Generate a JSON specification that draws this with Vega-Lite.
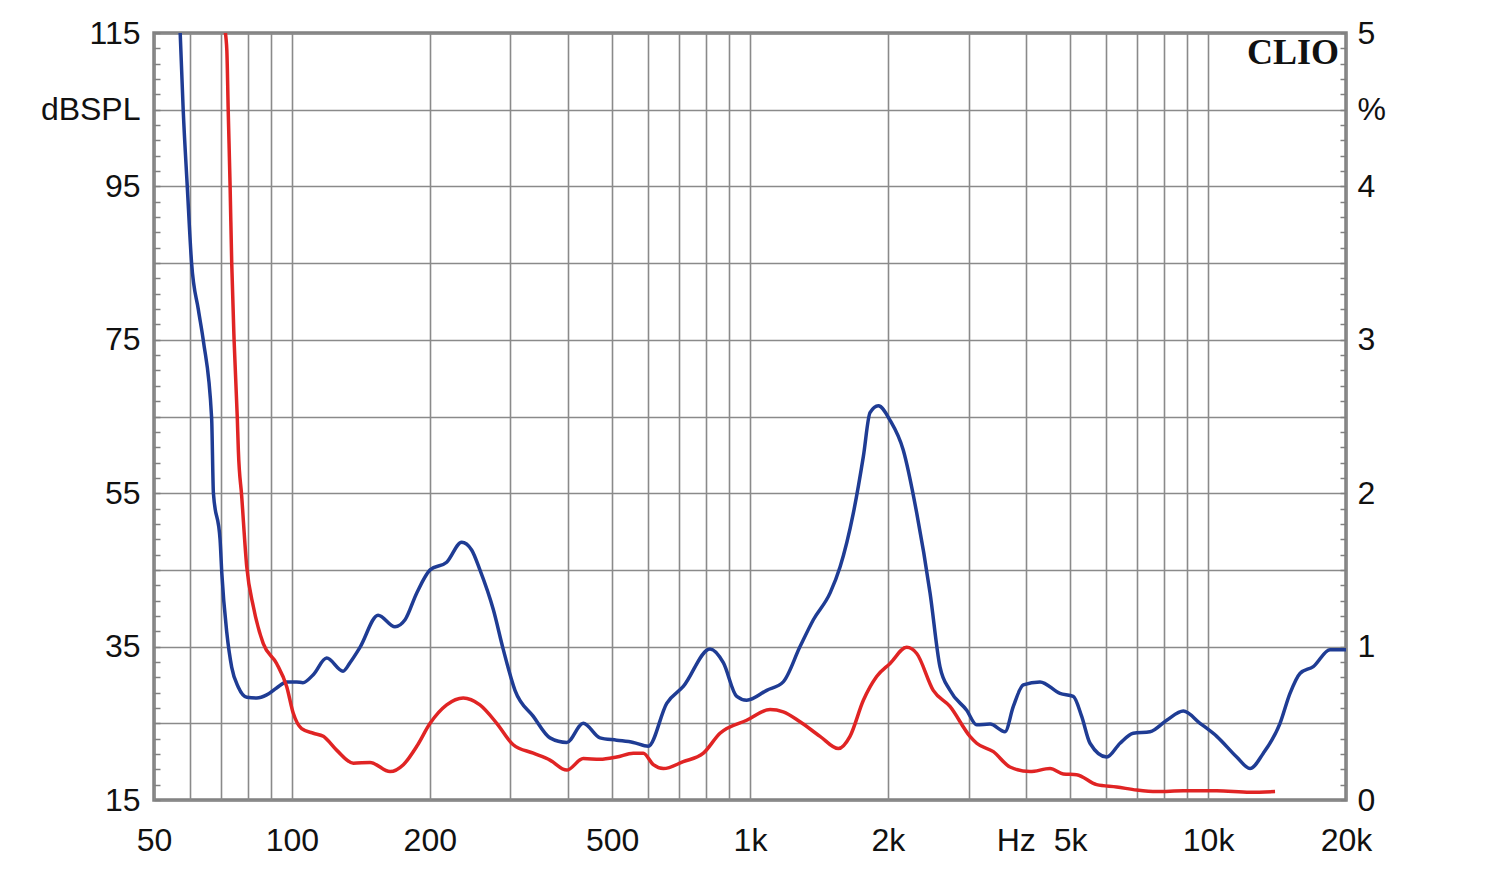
{
  "$schema": "https://vega.github.io/schema/vega-lite/v6.json",
  "width": 1192,
  "height": 767,
  "autosize": {"type": "none"},
  "padding": {"left": 154, "top": 33, "right": 154, "bottom": 77},
  "background": "white",
  "config": {
    "view": {"stroke": "#808080", "strokeWidth": 3.5},
    "axis": {"labelFont": "Liberation Sans", "labelFontSize": 32, "labelColor": "#111111", "domain": false, "title": null, "labelOverlap": false, "labelFlush": false, "tickCount": 200}
  },
  "datasets": {
    "blue": [
      {"freq": 57, "db": 115.4}, {"freq": 57.9, "db": 105}, {"freq": 59.1, "db": 95}, {"freq": 60.4, "db": 85}, {"freq": 62.5, "db": 78.9}, {"freq": 64.1, "db": 74.8}, {"freq": 66.8, "db": 64.8}, {"freq": 67.4, "db": 55}, {"freq": 69.7, "db": 48.9}, {"freq": 70.3, "db": 44.6}, {"freq": 72.1, "db": 36.8}, {"freq": 73.9, "db": 32.3}, {"freq": 76.4, "db": 29.7}, {"freq": 79.7, "db": 28.4}, {"freq": 83.8, "db": 28.3}, {"freq": 88.1, "db": 28.7}, {"freq": 92.6, "db": 29.6}, {"freq": 97.4, "db": 30.4}, {"freq": 102.4, "db": 30.4}, {"freq": 105.7, "db": 30.3}, {"freq": 111.2, "db": 31.3}, {"freq": 119.1, "db": 33.5}, {"freq": 129.3, "db": 31.8}, {"freq": 133.9, "db": 32.9}, {"freq": 140.8, "db": 34.9}, {"freq": 154.2, "db": 39.1}, {"freq": 167.9, "db": 37.6}, {"freq": 176.6, "db": 38.5}, {"freq": 187.3, "db": 42.0}, {"freq": 200.3, "db": 45.0}, {"freq": 217.7, "db": 46.0}, {"freq": 234.8, "db": 48.6}, {"freq": 246.8, "db": 47.6}, {"freq": 257.3, "db": 45.0}, {"freq": 275.3, "db": 39.8}, {"freq": 289.4, "db": 34.6}, {"freq": 306.9, "db": 29.3}, {"freq": 336.5, "db": 25.9}, {"freq": 365.9, "db": 23.1}, {"freq": 398.1, "db": 22.5}, {"freq": 432.5, "db": 25.0}, {"freq": 470.5, "db": 23.1}, {"freq": 511.7, "db": 22.8}, {"freq": 556.2, "db": 22.5}, {"freq": 599.8, "db": 22.0}, {"freq": 658, "db": 27.6}, {"freq": 715.2, "db": 29.8}, {"freq": 817.9, "db": 34.7}, {"freq": 874.5, "db": 32.9}, {"freq": 935.5, "db": 28.5}, {"freq": 983.5, "db": 28.0}, {"freq": 1088, "db": 29.3}, {"freq": 1182, "db": 30.4}, {"freq": 1286, "db": 35.0}, {"freq": 1375, "db": 38.5}, {"freq": 1496, "db": 42.0}, {"freq": 1573, "db": 45.4}, {"freq": 1681, "db": 52.4}, {"freq": 1768, "db": 59.8}, {"freq": 1828, "db": 65.5}, {"freq": 1906, "db": 66.4}, {"freq": 2022, "db": 64.5}, {"freq": 2161, "db": 60.6}, {"freq": 2312, "db": 52.4}, {"freq": 2472, "db": 42.0}, {"freq": 2598, "db": 32.4}, {"freq": 2732, "db": 29.3}, {"freq": 2972, "db": 26.7}, {"freq": 3125, "db": 24.8}, {"freq": 3342, "db": 24.9}, {"freq": 3603, "db": 23.9}, {"freq": 3757, "db": 27.2}, {"freq": 3950, "db": 30.0}, {"freq": 4296, "db": 30.4}, {"freq": 4750, "db": 28.9}, {"freq": 5078, "db": 28.5}, {"freq": 5297, "db": 25.9}, {"freq": 5523, "db": 22.4}, {"freq": 6009, "db": 20.6}, {"freq": 6424, "db": 22.4}, {"freq": 6866, "db": 23.7}, {"freq": 7468, "db": 23.9}, {"freq": 8122, "db": 25.4}, {"freq": 8829, "db": 26.6}, {"freq": 9602, "db": 25.0}, {"freq": 10444, "db": 23.3}, {"freq": 11547, "db": 20.6}, {"freq": 12346, "db": 19.1}, {"freq": 13200, "db": 21.1}, {"freq": 14355, "db": 25.0}, {"freq": 15093, "db": 28.9}, {"freq": 15868, "db": 31.5}, {"freq": 16968, "db": 32.4}, {"freq": 18455, "db": 34.6}, {"freq": 20000, "db": 34.6}
    ],
    "red": [
      {"freq": 71.4, "pct": 5.02}, {"freq": 72.1, "pct": 4.89}, {"freq": 72.6, "pct": 4.5}, {"freq": 73.3, "pct": 4.0}, {"freq": 73.9, "pct": 3.5}, {"freq": 74.8, "pct": 2.99}, {"freq": 76.0, "pct": 2.49}, {"freq": 76.4, "pct": 2.28}, {"freq": 77.7, "pct": 1.98}, {"freq": 79.7, "pct": 1.52}, {"freq": 82.4, "pct": 1.26}, {"freq": 86.6, "pct": 1.02}, {"freq": 92.6, "pct": 0.89}, {"freq": 97.4, "pct": 0.74}, {"freq": 100.7, "pct": 0.565}, {"freq": 105.0, "pct": 0.465}, {"freq": 111.4, "pct": 0.435}, {"freq": 117.1, "pct": 0.415}, {"freq": 125.2, "pct": 0.325}, {"freq": 136.2, "pct": 0.24}, {"freq": 148.1, "pct": 0.245}, {"freq": 163.8, "pct": 0.185}, {"freq": 175.1, "pct": 0.23}, {"freq": 187.3, "pct": 0.35}, {"freq": 200.3, "pct": 0.5}, {"freq": 217.7, "pct": 0.62}, {"freq": 236.6, "pct": 0.665}, {"freq": 257.3, "pct": 0.62}, {"freq": 280, "pct": 0.5}, {"freq": 304.2, "pct": 0.36}, {"freq": 336.5, "pct": 0.305}, {"freq": 365.9, "pct": 0.26}, {"freq": 398.1, "pct": 0.195}, {"freq": 432.5, "pct": 0.27}, {"freq": 470.5, "pct": 0.265}, {"freq": 511.7, "pct": 0.28}, {"freq": 556.2, "pct": 0.305}, {"freq": 585, "pct": 0.305}, {"freq": 615, "pct": 0.23}, {"freq": 647, "pct": 0.205}, {"freq": 715, "pct": 0.25}, {"freq": 791, "pct": 0.305}, {"freq": 860, "pct": 0.435}, {"freq": 983.5, "pct": 0.52}, {"freq": 1106, "pct": 0.59}, {"freq": 1182, "pct": 0.575}, {"freq": 1286, "pct": 0.51}, {"freq": 1422, "pct": 0.415}, {"freq": 1559, "pct": 0.335}, {"freq": 1653, "pct": 0.415}, {"freq": 1768, "pct": 0.65}, {"freq": 1890, "pct": 0.805}, {"freq": 2022, "pct": 0.89}, {"freq": 2198, "pct": 0.995}, {"freq": 2312, "pct": 0.955}, {"freq": 2512, "pct": 0.715}, {"freq": 2732, "pct": 0.61}, {"freq": 3021, "pct": 0.415}, {"freq": 3125, "pct": 0.37}, {"freq": 3398, "pct": 0.315}, {"freq": 3694, "pct": 0.215}, {"freq": 4085, "pct": 0.185}, {"freq": 4518, "pct": 0.205}, {"freq": 4830, "pct": 0.17}, {"freq": 5165, "pct": 0.165}, {"freq": 5711, "pct": 0.1}, {"freq": 6316, "pct": 0.085}, {"freq": 6984, "pct": 0.065}, {"freq": 7724, "pct": 0.055}, {"freq": 8829, "pct": 0.06}, {"freq": 10444, "pct": 0.06}, {"freq": 12346, "pct": 0.05}, {"freq": 14000, "pct": 0.055}
    ],
    "brand": [{"label": "CLIO"}]
  },
  "layer": [
    {
      "layer": [
        {
          "data": {"name": "blue"},
          "mark": {"type": "line", "color": "#1f3c94", "strokeWidth": 3.5, "clip": true, "interpolate": "monotone"},
          "encoding": {
            "x": {
              "field": "freq", "type": "quantitative",
              "scale": {"type": "log", "domain": [50, 20000], "nice": false},
              "axis": {
                "orient": "bottom",
                "tickCount": 200,
                "values": [50, 60, 70, 80, 90, 100, 200, 300, 400, 500, 600, 700, 800, 900, 1000, 2000, 3000, 4000, 5000, 6000, 7000, 8000, 9000, 10000, 20000],
                "labelExpr": "datum.value == 4000 ? 'Hz' : (indexof([50, 100, 200, 500], datum.value) >= 0 ? datum.value + '' : (indexof([1000, 2000, 5000, 10000, 20000], datum.value) >= 0 ? (datum.value / 1000) + 'k' : ''))",
                "labelOffset": {"condition": {"test": "datum.value == 4000", "value": -10}, "value": 0},
                "grid": true, "gridColor": "#8a8a8a", "gridWidth": 1.6,
                "ticks": false, "labelPadding": 25
              }
            },
            "y": {
              "field": "db", "type": "quantitative",
              "scale": {"domain": [15, 115], "nice": false, "zero": false},
              "axis": {
                "orient": "left",
                "tickCount": 200,
                "values": [15, 17, 19, 21, 23, 25, 27, 29, 31, 33, 35, 37, 39, 41, 43, 45, 47, 49, 51, 53, 55, 57, 59, 61, 63, 65, 67, 69, 71, 73, 75, 77, 79, 81, 83, 85, 87, 89, 91, 93, 95, 97, 99, 101, 103, 105, 107, 109, 111, 113, 115],
                "labelExpr": "datum.value == 105 ? 'dBSPL' : ((datum.value - 15) % 20 == 0 ? datum.value + '' : '')",
                "grid": true, "gridColor": "#8a8a8a", "gridWidth": 1.6,
                "gridOpacity": {"condition": {"test": "(datum.value - 15) % 10 == 0", "value": 1}, "value": 0},
                "ticks": true, "tickSize": -6, "tickColor": "#808080", "tickWidth": 1.5,
                "labelPadding": 20
              }
            }
          }
        },
        {
          "data": {"name": "brand"},
          "mark": {"type": "text", "align": "right", "baseline": "alphabetic", "font": "Liberation Serif", "fontWeight": "bold", "fontSize": 36, "color": "#111111"},
          "encoding": {
            "x": {"datum": 19300, "type": "quantitative"},
            "y": {"datum": 111, "type": "quantitative"},
            "text": {"field": "label"}
          }
        }
      ]
    },
    {
      "data": {"name": "red"},
      "mark": {"type": "line", "color": "#e02424", "strokeWidth": 3.5, "clip": true, "interpolate": "monotone"},
      "encoding": {
        "x": {"field": "freq", "type": "quantitative"},
        "y": {
          "field": "pct", "type": "quantitative",
          "scale": {"domain": [0, 5], "nice": false, "zero": false},
          "axis": {
            "orient": "right",
            "tickCount": 200,
            "values": [0, 0.1, 0.2, 0.3, 0.4, 0.5, 0.6, 0.7, 0.8, 0.9, 1, 1.1, 1.2, 1.3, 1.4, 1.5, 1.6, 1.7, 1.8, 1.9, 2, 2.1, 2.2, 2.3, 2.4, 2.5, 2.6, 2.7, 2.8, 2.9, 3, 3.1, 3.2, 3.3, 3.4, 3.5, 3.6, 3.7, 3.8, 3.9, 4, 4.1, 4.2, 4.3, 4.4, 4.5, 4.6, 4.7, 4.8, 4.9, 5],
            "labelExpr": "datum.value == 4.5 ? '%' : (datum.value % 1 == 0 ? datum.value + '' : '')",
            "grid": false,
            "ticks": true, "tickSize": -6, "tickColor": "#808080", "tickWidth": 1.5,
            "labelPadding": 17
          }
        }
      }
    }
  ],
  "resolve": {"scale": {"y": "independent"}}
}
